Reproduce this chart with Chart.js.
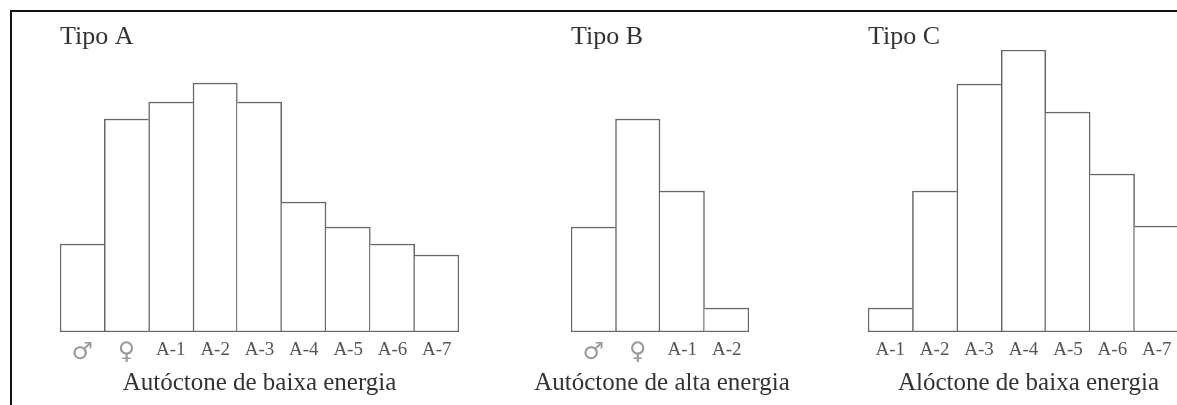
<!DOCTYPE html>
<html>
<head>
<meta charset="utf-8">
<title>Tipos A, B, C</title>
<script src="https://cdn.jsdelivr.net/npm/chart.js@4/dist/chart.umd.min.js"></script>
<style>
  html, body { margin: 0; padding: 0; background: #fff; }
  body { width: 1177px; height: 405px; overflow: hidden; position: relative; }
  .frame { position: absolute; left: 10px; top: 10px; right: -10px; bottom: -10px;
           border-top: 2.5px solid #111; border-left: 2.5px solid #111; }
  .panel { position: absolute; top: 24px; height: 381px; }
</style>
</head>
<body>
<div class="frame"></div>
<div class="panel" style="left:0px;width:519px"><canvas id="chartA"></canvas></div>
<div class="panel" style="left:511px;width:298px"><canvas id="chartB"></canvas></div>
<div class="panel" style="left:808px;width:431px"><canvas id="chartC"></canvas></div>
<script>
// Tipo A - autóctone de baixa energia
const labelsA = ['♂', '♀', 'A-1', 'A-2', 'A-3', 'A-4', 'A-5', 'A-6', 'A-7']
const valuesA = [8.8, 21.3, 23.0, 24.9, 23.0, 13.0, 10.5, 8.8, 7.7]

// Tipo B - autóctone de alta energia
const labelsB = ['♂', '♀', 'A-1', 'A-2']
const valuesB = [10.5, 21.3, 14.1, 2.4]

// Tipo C - alóctone de baixa energia
const labelsC = ['A-1', 'A-2', 'A-3', 'A-4', 'A-5', 'A-6', 'A-7']
const valuesC = [2.4, 14.1, 24.8, 28.2, 22.0, 15.8, 10.6]

const yMax = 28.2
const serif = "'Liberation Serif', 'DejaVu Serif', serif"

Chart.defaults.font.family = serif
Chart.defaults.color = '#555'

// one line per shared edge: the taller bar draws it
function edgeWidth(ctx) {
  const d = ctx.dataset.data
  const i = ctx.dataIndex
  const w = 1.5
  return {
    top: w,
    bottom: w,
    left: (i === 0 || d[i - 1] <= d[i]) ? w : 0,
    right: (i === d.length - 1 || d[i + 1] < d[i]) ? w : 0
  }
}

function isSymbol(label) {
  return label === '♂' || label === '♀'
}

// caption under the axis, drawn without the axis width limit
const axisCaption = {
  id: 'axisCaption',
  afterDraw(chart, args, opts) {
    const x = chart.scales.x
    const c = chart.ctx
    c.save()
    c.font = '25px ' + serif
    c.fillStyle = '#333'
    c.textAlign = 'center'
    c.textBaseline = 'middle'
    c.fillText(opts.text, (x.left + x.right) / 2 + (opts.shift || 0), x.bottom - 21.5)
    c.restore()
  }
}

function createPanel(canvasId, title, caption, labels, values, shift) {
  const ctx = document.getElementById(canvasId)
  if (!ctx) return

  new Chart(ctx, {
    type: 'bar',
    plugins: [axisCaption],
    data: {
      labels: labels,
      datasets: [{
        data: values,
        backgroundColor: '#fff',
        borderColor: '#666',
        borderWidth: edgeWidth,
        borderSkipped: false,
        categoryPercentage: 1,
        barPercentage: 1
      }]
    },
    options: {
      responsive: true,
      maintainAspectRatio: false,
      animation: false,
      layout: { padding: { left: 60, right: 60, top: 0, bottom: 0 } },
      plugins: {
        legend: { display: false },
        tooltip: { enabled: false },
        title: {
          display: true,
          text: title,
          align: 'start',
          color: '#333',
          padding: 0,
          font: { size: 26, weight: 'normal', lineHeight: 1 }
        },
        axisCaption: { text: caption, shift: shift }
      },
      scales: {
        x: {
          grid: { display: false, drawTicks: false },
          border: { display: false },
          ticks: {
            autoSkip: false,
            maxRotation: 0,
            padding: 9,
            color: (c) => isSymbol(labels[c.index]) ? '#999' : '#555',
            font: (c) => isSymbol(labels[c.index])
              ? { family: "'DejaVu Sans', sans-serif", size: 24, lineHeight: 1 }
              : { size: 19, lineHeight: 1 }
          },
          afterFit: (axis) => { axis.height = 73 }
        },
        y: {
          display: false,
          min: 0,
          max: yMax
        }
      }
    }
  })
}

createPanel('chartA', 'Tipo A', 'Autóctone de baixa energia', labelsA, valuesA, 0)
createPanel('chartB', 'Tipo B', 'Autóctone de alta energia', labelsB, valuesB, 2)
createPanel('chartC', 'Tipo C', 'Alóctone de baixa energia', labelsC, valuesC, 5)
</script>
</body>
</html>
